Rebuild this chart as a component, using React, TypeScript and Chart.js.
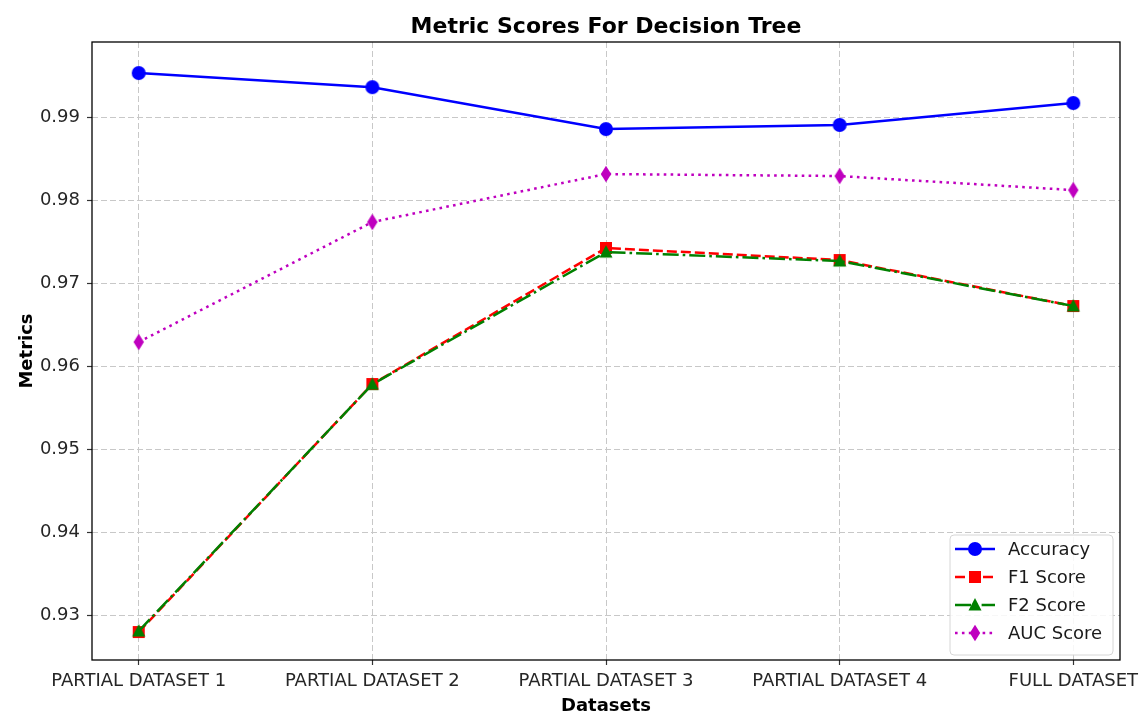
import React, { useEffect, useRef } from "react";
import { Chart, registerables } from "chart.js";

Chart.register(...registerables);

const categories = ["PARTIAL DATASET 1", "PARTIAL DATASET 2", "PARTIAL DATASET 3", "PARTIAL DATASET 4", "FULL DATASET"];
const accuracy = [0.9953, 0.9936, 0.98855, 0.98904, 0.99169];
const f1Score = [0.92795, 0.95783, 0.97422, 0.97277, 0.96723];
const f2Score = [0.92807, 0.9578, 0.97373, 0.97265, 0.96723];
const aucScore = [0.96289, 0.97735, 0.98313, 0.98289, 0.9812];
const yTicks = [0.93, 0.94, 0.95, 0.96, 0.97, 0.98, 0.99];
const xTicks = [0, 1, 2, 3, 4];

const FONT = "'DejaVu Sans', sans-serif";

function makeMarker(shape: string, color: string): HTMLCanvasElement {
  const c = document.createElement("canvas");
  const w = shape === "diamond" ? 12 : 16;
  const h = shape === "diamond" ? 18 : 16;
  c.width = w;
  c.height = h;
  const ctx = c.getContext("2d")!;
  ctx.fillStyle = color;
  const cx = w / 2, cy = h / 2;
  ctx.beginPath();
  if (shape === "circle") {
    ctx.arc(cx, cy, 7, 0, Math.PI * 2);
  } else if (shape === "square") {
    ctx.rect(cx - 6, cy - 6, 12, 12);
  } else if (shape === "triangle") {
    ctx.moveTo(cx, cy - 7);
    ctx.lineTo(cx + 6.5, cy + 5.5);
    ctx.lineTo(cx - 6.5, cy + 5.5);
    ctx.closePath();
  } else {
    ctx.moveTo(cx, cy - 8.2);
    ctx.lineTo(cx + 5.2, cy);
    ctx.lineTo(cx, cy + 8.2);
    ctx.lineTo(cx - 5.2, cy);
    ctx.closePath();
  }
  ctx.fill();
  return c;
}

export default function App() {
  const ref = useRef<HTMLCanvasElement | null>(null);

  useEffect(() => {
    if (!ref.current) return;
    const series = [
      { label: "Accuracy", data: accuracy, color: "#0000ff", dash: [] as number[], marker: "circle", order: 4 },
      { label: "F1 Score", data: f1Score, color: "#ff0000", dash: [10, 4], marker: "square", order: 3 },
      { label: "F2 Score", data: f2Score, color: "#008000", dash: [16, 4, 2.6, 4], marker: "triangle", order: 2 },
      { label: "AUC Score", data: aucScore, color: "#bf00bf", dash: [2.6, 4.3], marker: "diamond", order: 1 },
    ];
    const markers = series.map((s) => makeMarker(s.marker, s.color));

    const decor = {
      id: "decor",
      afterDatasetsDraw(chart: any) {
        const { ctx, chartArea: a } = chart;
        ctx.save();
        ctx.strokeStyle = "#000";
        ctx.lineWidth = 1.3;
        ctx.strokeRect(a.left, a.top, a.right - a.left, a.bottom - a.top);
        ctx.restore();
      },
      afterDraw(chart: any) {
        const { ctx, chartArea: a } = chart;
        ctx.save();
        // title
        ctx.fillStyle = "#000";
        ctx.font = `bold 22px ${FONT}`;
        ctx.textAlign = "center";
        ctx.textBaseline = "middle";
        ctx.fillText("Metric Scores For Decision Tree", (a.left + a.right) / 2, 27);
        // legend
        const bx = 950, by = 535, bw = 163, bh = 120, r = 4;
        ctx.beginPath();
        ctx.moveTo(bx + r, by);
        ctx.arcTo(bx + bw, by, bx + bw, by + bh, r);
        ctx.arcTo(bx + bw, by + bh, bx, by + bh, r);
        ctx.arcTo(bx, by + bh, bx, by, r);
        ctx.arcTo(bx, by, bx + bw, by, r);
        ctx.closePath();
        ctx.fillStyle = "rgba(255,255,255,0.85)";
        ctx.fill();
        ctx.strokeStyle = "#d6d6d6";
        ctx.lineWidth = 1;
        ctx.stroke();
        series.forEach((s, i) => {
          const y = 549 + i * 28;
          ctx.beginPath();
          ctx.setLineDash(s.dash);
          ctx.strokeStyle = s.color;
          ctx.lineWidth = 2.5;
          ctx.moveTo(955, y);
          ctx.lineTo(995, y);
          ctx.stroke();
          ctx.setLineDash([]);
          const m = markers[i];
          ctx.drawImage(m, 975 - m.width / 2, y - m.height / 2);
          ctx.fillStyle = "#1a1a1a";
          ctx.font = `18px ${FONT}`;
          ctx.textAlign = "left";
          ctx.textBaseline = "middle";
          ctx.fillText(s.label, 1008, y + 1);
        });
        ctx.restore();
      },
    };

    const chart = new Chart(ref.current, {
      type: "line",
      data: {
        datasets: series.map((s, i) => ({
          label: s.label,
          data: s.data.map((v, j) => ({ x: j, y: v })),
          borderColor: s.color,
          backgroundColor: s.color,
          borderWidth: 2.5,
          borderDash: s.dash,
          pointStyle: markers[i] as any,
          pointRadius: 7,
          pointHoverRadius: 7,
          fill: false,
          tension: 0,
          order: s.order,
        })),
      },
      options: {
        responsive: false,
        animation: false,
        events: [],
        layout: { padding: { left: 0, top: 42, right: 26, bottom: 0 } },
        plugins: { legend: { display: false }, title: { display: false }, tooltip: { enabled: false } },
        scales: {
          x: {
            type: "linear",
            min: -0.2,
            max: 4.2,
            afterBuildTicks: (scale: any) => {
              scale.ticks = xTicks.map((v) => ({ value: v }));
            },
            afterFit: (scale: any) => {
              scale.height = 55;
            },
            ticks: {
              autoSkip: false,
              maxRotation: 0,
              padding: 6,
              color: "#262626",
              font: { family: FONT, size: 18 },
              callback: (v: any) => categories[v as number],
            },
            grid: { color: "#c8c8c8", lineWidth: 1, tickLength: 5, tickColor: "#333", tickBorderDash: [], tickWidth: 1.2 },
            border: { display: false, dash: [6, 3] },
            title: { display: true, text: "Datasets", color: "#000", padding: 0, font: { family: FONT, size: 18, weight: "bold", lineHeight: 1 } },
          },
          y: {
            type: "linear",
            min: 0.92458,
            max: 0.99904,
            afterBuildTicks: (scale: any) => {
              scale.ticks = yTicks.map((v) => ({ value: v }));
            },
            afterFit: (scale: any) => {
              scale.width = 92;
            },
            ticks: {
              padding: 7,
              color: "#262626",
              font: { family: FONT, size: 18 },
              callback: (v: any) => (v as number).toFixed(2),
            },
            grid: { color: "#c8c8c8", lineWidth: 1, tickLength: 5, tickColor: "#333", tickBorderDash: [], tickWidth: 1.2 },
            border: { display: false, dash: [6, 3] },
            title: { display: true, text: "Metrics", color: "#000", padding: { top: 17, bottom: 0 }, font: { family: FONT, size: 18, weight: "bold" } },
          },
        },
      },
      plugins: [decor],
    } as any);
    return () => chart.destroy();
  }, []);

  return (
    <div style={{ position: "fixed", left: 0, top: 0, width: 1146, height: 715, background: "#fff" }}>
      <canvas ref={ref} width={1146} height={715} style={{ width: 1146, height: 715, display: "block" }} />
    </div>
  );
}
